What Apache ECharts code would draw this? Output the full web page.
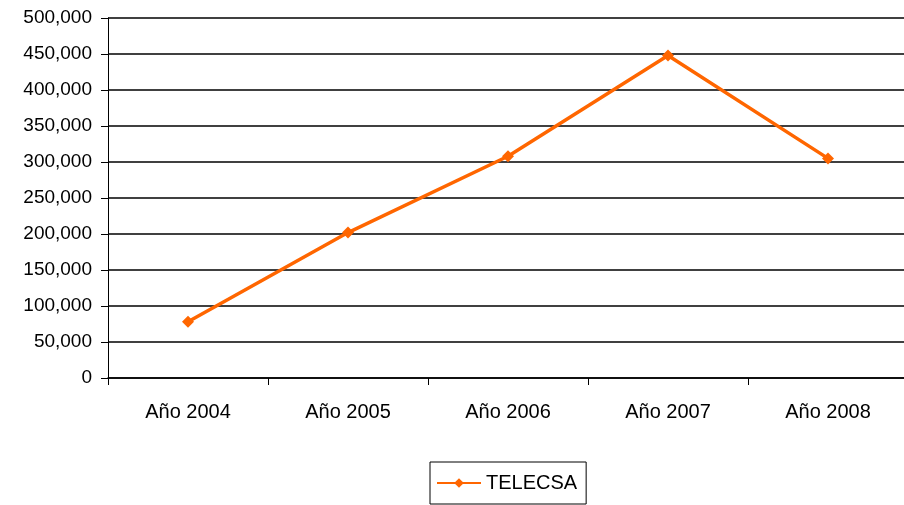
<!DOCTYPE html>
<html>
<head>
<meta charset="utf-8">
<script src="https://cdn.jsdelivr.net/npm/echarts@6/dist/echarts.min.js"></script>
<style>
    html, body { margin: 0; padding: 0; background: #fff; }
    #chart { width: 904px; height: 505px; }
</style>
</head>
<body>
<div id="chart"></div>
<script>
// 类目与数值
const years = ['Año 2004', 'Año 2005', 'Año 2006', 'Año 2007', 'Año 2008'];
const telecsa = [78000, 202000, 308000, 448000, 305000];
const seriesName = 'TELECSA';

const chart = echarts.init(document.getElementById('chart'));

const option = {
    animation: false,
    textStyle: {
        fontFamily: 'Liberation Sans, Arial, sans-serif'
    },
    grid: {
        left: 108,
        width: 800,
        top: 18,
        bottom: 127,
        outerBoundsMode: 'none'
    },
    legend: {
        data: [seriesName],
        left: 430,
        top: 462,
        padding: [11, 9, 11, 6],
        borderColor: '#000',
        borderWidth: 1,
        itemWidth: 44,
        itemHeight: 12,
        itemGap: 6,
        textStyle: {
            color: '#000',
            fontSize: 20
        }
    },
    xAxis: {
        type: 'category',
        data: years,
        boundaryGap: true,
        axisLine: {
            lineStyle: { color: '#000', width: 1.5 }
        },
        axisTick: {
            show: true,
            length: 7,
            lineStyle: { color: '#000' }
        },
        axisLabel: {
            color: '#000',
            fontSize: 20,
            margin: 24
        }
    },
    yAxis: {
        type: 'value',
        min: 0,
        max: 500000,
        interval: 50000,
        axisLine: {
            show: true,
            lineStyle: { color: '#000', width: 1 }
        },
        axisTick: {
            show: true,
            length: 7,
            lineStyle: { color: '#000' }
        },
        splitLine: {
            lineStyle: { color: '#000', width: 1.5 }
        },
        axisLabel: {
            color: '#000',
            fontSize: 19,
            margin: 16,
            formatter: function (v) {
                return v.toLocaleString('en-US');
            }
        }
    },
    series: [
        {
            name: seriesName,
            type: 'line',
            data: telecsa,
            symbol: 'diamond',
            symbolSize: 12,
            lineStyle: { color: '#FF6600', width: 3.5 },
            itemStyle: { color: '#FF6600' }
        }
    ]
};

chart.setOption(option);
</script>
</body>
</html>
